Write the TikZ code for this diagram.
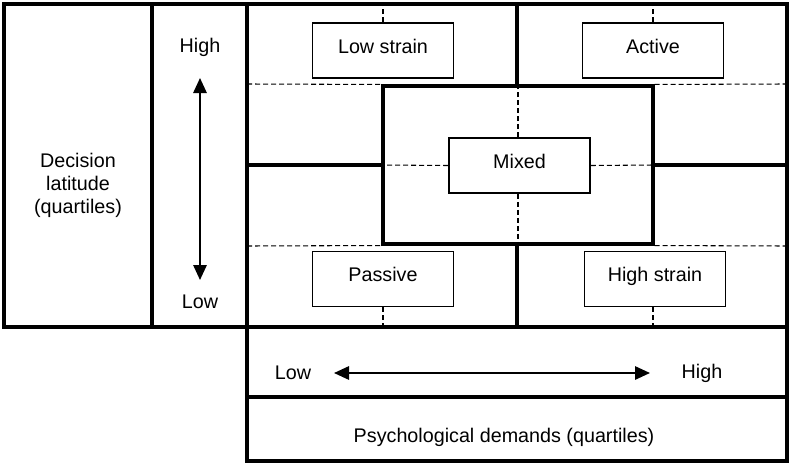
\documentclass[tikz,border=0pt]{standalone}
\usepackage{fontspec}
\setmainfont{Liberation Sans}
\usepackage{tikz}
\usetikzlibrary{arrows.meta, calc}

\tikzset{
  frame/.style={line width=2.3pt},
  guide/.style={line width=0.8pt, dash pattern=on 3.75pt off 2.25pt},
  vguide/.style={line width=1.4pt, dash pattern=on 3.75pt off 2.25pt},
  catbox/.style={draw, line width=1.4pt, minimum width=105.75pt, minimum height=41.25pt,
                 inner sep=0pt, text height=10pt, text depth=6pt},
  scale arrow/.style={line width=1.5pt, {Triangle[length=11.25pt,width=10pt]}-{Triangle[length=11.25pt,width=10pt]}},
  every node/.style={font=\fontsize{14.8}{17.25}\selectfont}
}

\begin{document}
\begin{tikzpicture}[x=0.75pt, y=-0.75pt]
    \useasboundingbox (0,0) rectangle (792,464);
    % Moldura superior
    \draw[frame] (4,4) rectangle (787,327);
    \draw[frame] (152,4) -- (152,327);
    \draw[frame] (247,4) -- (247,327);
    \draw[frame] (517,4) -- (517,86);
    \draw[frame] (517,244) -- (517,327);
    \draw[frame] (247,165) -- (383,165);
    \draw[frame] (653,165) -- (787,165);
    \node[frame, draw, minimum width=202.5pt, minimum height=118.5pt, inner sep=0pt] (core) at (518,165) {};
    % Moldura inferior
    \draw[frame] (247,327) rectangle (787,461);
    \draw[frame] (247,397) -- (787,397);
    % Linhas tracejadas
    \draw[guide] (247,84) -- (core.north west);
    \draw[guide] (core.north east) -- (787,84);
    \draw[guide] (247,246) -- (core.south west);
    \draw[guide] (core.south east) -- (787,246);
    % Categorias
    \node[catbox] (lowstrain) at (383,50.5) {Low strain};
    \node[catbox] (active) at (653,50.5) {Active};
    \node[catbox] (mixed) at (519.5,165.5) {Mixed};
    \node[catbox] (passive) at (383,279) {Passive};
    \node[catbox] (highstrain) at (655,279) {High strain};
    \coordinate (ls top) at (383,4);
    \coordinate (ac top) at (653,4);
    \coordinate (pa bot) at (383,327);
    \coordinate (hs bot) at (653,327);
    \draw[vguide] (lowstrain.north) -- (ls top);
    \draw[vguide] (active.north) -- (ac top);
    \draw[vguide] (passive.south -| pa bot) -- (pa bot);
    \draw[vguide] (highstrain.south -| hs bot) -- (hs bot);
    \draw[vguide] (mixed.north -| core.north) -- (core.north);
    \draw[vguide] (mixed.south -| core.south) -- (core.south);
    \draw[guide] (mixed.west) -- (core.west);
    \draw[guide] (mixed.east) -- (core.east);
    % Eixos
    \node[align=center] (latitude) at (78,185) {Decision\\latitude\\(quartiles)};
    \node (dlhigh) at (200,47) {High};
    \node (dllow) at (200,302) {Low};
    \coordinate (dltop) at (200,78);
    \coordinate (dlbot) at (200,280);
    \draw[scale arrow] (dlbot) -- (dltop);
    \node (pdlow) at (293,373) {Low};
    \node (pdhigh) at (702,373) {High};
    \coordinate (pdleft) at (334,373);
    \coordinate (pdright) at (650,373);
    \draw[scale arrow] (pdleft) -- (pdright);
    \node (demands) at (504,437) {Psychological demands (quartiles)};
\end{tikzpicture}
\end{document}
